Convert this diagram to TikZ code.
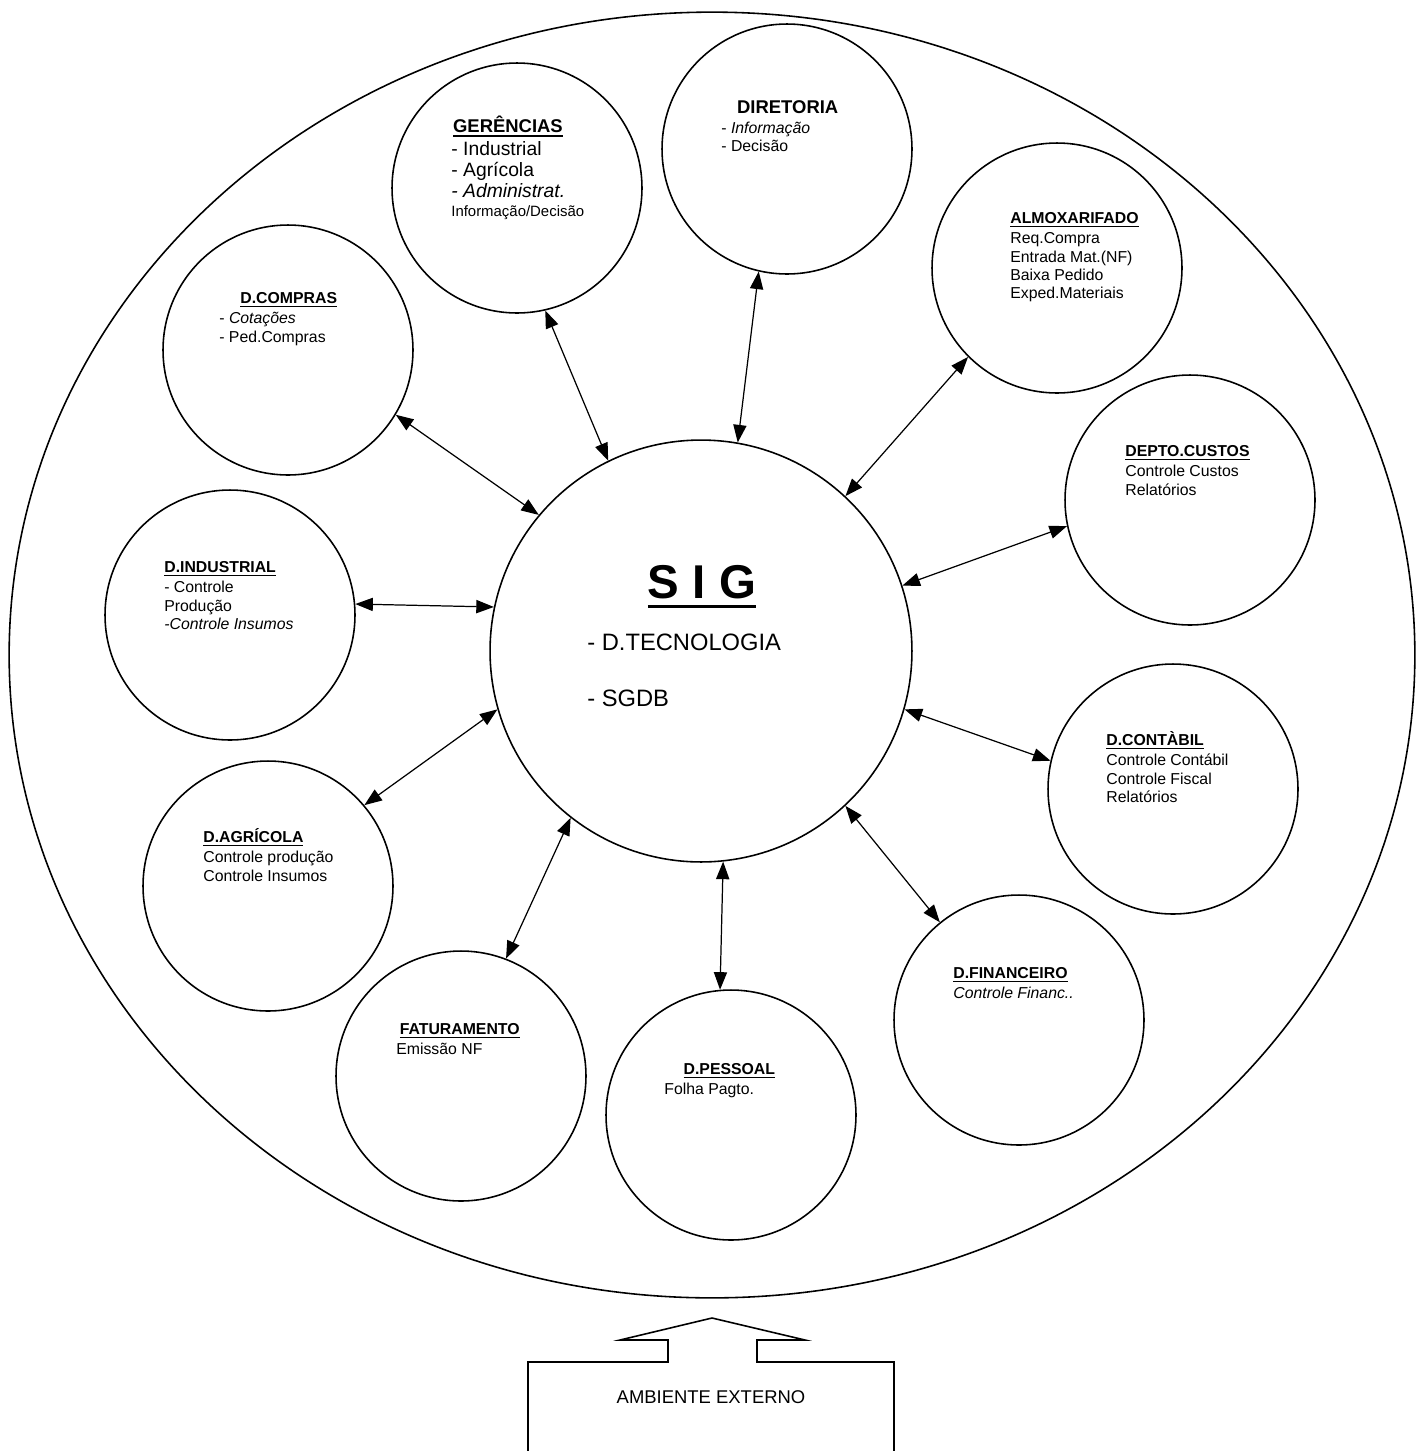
\documentclass[tikz,border=0pt]{standalone}
\usepackage{fontspec}
\setmainfont{Liberation Sans}
\usepackage{tikz}
\usetikzlibrary{arrows.meta}
\newsavebox{\ttlbox}
\newcommand{\titl}[1]{\sbox{\ttlbox}{\bfseries #1}\rlap{\raisebox{-2.2pt}{\rule{\wd\ttlbox}{0.9pt}}}\usebox{\ttlbox}}

\begin{document}
\begin{tikzpicture}[x=0.02cm, y=-0.02cm, font=\fontsize{9}{10.5}\selectfont,
  dept/.style={circle, draw, line width=0.9pt, minimum size=5cm, inner sep=0pt},
  txt/.style={anchor=north west, align=left, inner sep=0pt},
  link/.style={{Triangle[length=10pt,width=7.5pt]}-{Triangle[length=10pt,width=7.5pt]}, line width=0.7pt}]
  \useasboundingbox (0,0) rectangle (1424,1451);
  \draw[line width=0.9pt] (712,655) ellipse [x radius=14.06cm, y radius=12.86cm];
  \foreach \n/\x/\y in {ger/517/188, dir/787/149, alm/1057/268, comp/288/350, cust/1190/500, ind/230/615,
      cont/1173/789, agr/268/886, fat/461/1076, pes/731/1115, fin/1019/1020}
    \node[dept] (\n) at (\x,\y) {};
  \node[dept, minimum size=8.44cm] (sig) at (701,651) {};
  \foreach \n/\p/\q in {comp/-31/140, ger/-77/116, dir/-103/80, alm/-135/47, cust/192/18, ind/5/168,
      cont/167/-16, agr/40/196, fat/69/-128, pes/95/-84, fin/129/-47}
    \draw[link] (\n.\p) -- (sig.\q);

  \node[txt, font=\fontsize{11}{12}\selectfont] (gertxt) at (451,116)
    {\hspace*{1pt}{\fontsize{10.5}{12}\selectfont\titl{GERÊNCIAS}}\\[1pt] - Industrial\\ - Agrícola\\
     \textit{- Administrat.}\\[-1.5pt] {\fontsize{8.5}{10}\selectfont Informação/Decisão}};
  \node[txt] (dirtxt) at (721,100)
    {\hspace*{9pt}{\fontsize{10.5}{12}\selectfont\textbf{DIRETORIA}}\\[1pt] - \textit{Informação}\\ - Decisão};
  \node[txt] (almtxt) at (1010,212)
    {\titl{ALMOXARIFADO}\\[1pt] Req.Compra\\ Entrada Mat.(NF)\\ Baixa Pedido\\ Exped.Materiais};
  \node[txt] (comptxt) at (219,292) {\hspace*{12pt}\titl{D.COMPRAS}\\[1pt] - \textit{Cotações}\\ - Ped.Compras};
  \node[txt] (custtxt) at (1125,445) {\titl{DEPTO.CUSTOS}\\[1pt] Controle Custos\\ Relatórios};
  \node[txt] (indtxt) at (164,561)
    {\titl{D.INDUSTRIAL}\\[1pt] - Controle\\ Produção\\ \textit{-Controle Insumos}};
  \node[txt] (conttxt) at (1106,731)
    {\titl{D.CONTÀBIL}\\[1pt] Controle Contábil\\ Controle Fiscal\\ Relatórios};
  \node[txt] (agrtxt) at (203,828) {\titl{D.AGRÍCOLA}\\[1pt] Controle produção\\ Controle Insumos};
  \node[txt] (fattxt) at (396,1023) {\hspace*{2pt}\titl{FATURAMENTO}\\[1pt] Emissão NF};
  \node[txt] (pestxt) at (664,1063) {\hspace*{11pt}\titl{D.PESSOAL}\\[1pt] Folha Pagto.};
  \node[txt] (fintxt) at (953,967) {\titl{D.FINANCEIRO}\\[1pt] \textit{Controle Financ..}};

  \node[anchor=base, inner sep=0pt, font=\fontsize{27}{30}\selectfont\bfseries] (sigttl) at (702,598)
    {\sbox{\ttlbox}{S I G}\rlap{\raisebox{-5.5pt}{\rule{\wd\ttlbox}{1.8pt}}}\usebox{\ttlbox}};
  \node[anchor=base west, inner sep=0pt, font=\fontsize{13.5}{16}\selectfont] (sigtec) at (587,650) {- D.TECNOLOGIA};
  \node[anchor=base west, inner sep=0pt, font=\fontsize{13.5}{16}\selectfont] (sigdb) at (587,706) {- SGDB};

  \draw[line width=0.9pt] (528,1451) -- (528,1362) -- (668,1362) -- (668,1340) -- (620,1340) -- (712,1318)
    -- (805,1340) -- (757,1340) -- (757,1362) -- (894,1362) -- (894,1451);
  \node[anchor=base, inner sep=0pt, font=\fontsize{10.5}{12}\selectfont] (amb) at (711,1403) {AMBIENTE EXTERNO};
\end{tikzpicture}
\end{document}
